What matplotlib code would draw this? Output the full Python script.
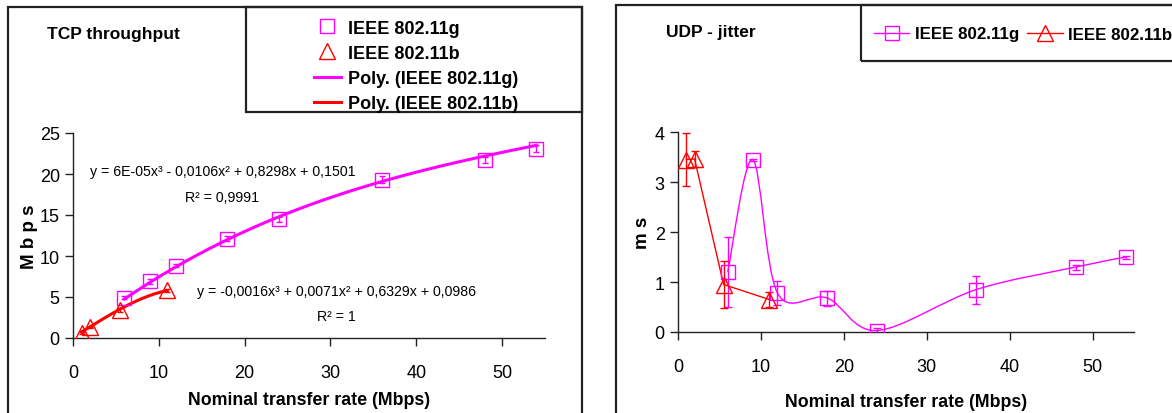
import matplotlib
matplotlib.use("Agg")
import matplotlib.pyplot as plt
import numpy as np
from matplotlib.patches import Rectangle, PathPatch
from matplotlib.path import Path
from matplotlib.lines import Line2D

plt.rcParams['font.family'] = ['Liberation Sans', 'DejaVu Sans']

# data: TCP throughput (Mbps)
tcp_g_x = [6, 9, 12, 18, 24, 36, 48, 54]
tcp_g_y = [4.9, 6.9, 8.8, 12.1, 14.5, 19.3, 21.7, 23.1]
tcp_g_err = [0.2, 0.3, 0.2, 0.3, 0.3, 0.4, 0.4, 0.4]
tcp_b_x = [1, 2, 5.5, 11]
tcp_b_y = [0.6, 1.3, 3.4, 5.8]
tcp_b_err = [0.1, 0.1, 0.2, 0.2]
# trendline coefficients as printed on the chart
poly_g = [6e-05, -0.0106, 0.8298, 0.1501]
poly_b = [-0.0016, 0.0071, 0.6329, 0.0986]

# data: UDP jitter (ms)
udp_g_x = [6, 9, 12, 18, 24, 36, 48, 54]
udp_g_y = [1.2, 3.45, 0.78, 0.68, 0.03, 0.85, 1.3, 1.5]
udp_g_err = [0.7, 0.02, 0.24, 0.15, 0.05, 0.28, 0.05, 0.03]
udp_b_x = [1, 2, 5.5, 11]
udp_b_y = [3.45, 3.46, 0.95, 0.65]
udp_b_err = [0.53, 0.16, 0.47, 0.15]

MAG = '#FF00FF'
RED = '#FF0000'

W, H = 1172, 414
fig = plt.figure(figsize=(W / 100, H / 100), dpi=100)


def px_axes(x0, y0, x1, y1):
    return fig.add_axes([x0 / W, 1 - y1 / H, (x1 - x0) / W, (y1 - y0) / H])


def px_rect(x0, y0, x1, y1, lw=1.6, color='#222222'):
    r = Rectangle((x0 / W, 1 - y1 / H), (x1 - x0) / W, (y1 - y0) / H,
                  transform=fig.transFigure, fill=False, lw=lw, ec=color)
    fig.patches.append(r)


def style_axes(ax, ymax, yticks, xpad):
    ax.set_xlim(0, 55)
    ax.set_ylim(0, ymax)
    ax.set_xticks([0, 10, 20, 30, 40, 50])
    ax.set_yticks(yticks)
    for s in ['top', 'right']:
        ax.spines[s].set_visible(False)
    for s in ['left', 'bottom']:
        ax.spines[s].set_linewidth(1.0)
        ax.spines[s].set_color('#222222')
    ax.tick_params(direction='out', length=6, width=1, labelsize=13, color='#222222')
    ax.tick_params(axis='x', pad=13)
    ax.set_facecolor('none')
    ax.set_xlabel('Nominal transfer rate (Mbps)', fontsize=12.8, fontweight='bold',
                  labelpad=xpad)


def smooth_line(ax, xs, ys, color, lw=1.0):
    # Excel-like smoothed line: Bezier segments through the points
    pts = np.column_stack([xs, ys]).astype(float)
    n = len(pts)
    verts = [pts[0]]
    codes = [Path.MOVETO]
    for i in range(n - 1):
        p0 = pts[i - 1] if i > 0 else pts[i]
        p1 = pts[i]
        p2 = pts[i + 1]
        p3 = pts[i + 2] if i + 2 < n else pts[i + 1]
        c1 = p1 + (p2 - p0) / 6.0
        c2 = p2 - (p3 - p1) / 6.0
        verts += [c1, c2, p2]
        codes += [Path.CURVE4] * 3
    ax.add_patch(PathPatch(Path(verts, codes), fill=False, ec=color, lw=lw, zorder=2))


# ---------------- left: TCP throughput ----------------
px_rect(8, 8, 582, 420)
ax1 = px_axes(73, 134, 545, 339)
style_axes(ax1, 25, [0, 5, 10, 15, 20, 25], 7)
ax1.set_ylabel('M b p s', fontsize=13.5, fontweight='bold', labelpad=1)

xg = np.linspace(min(tcp_g_x), max(tcp_g_x), 200)
xb = np.linspace(min(tcp_b_x), max(tcp_b_x), 200)
ax1.plot(xg, np.polyval(poly_g, xg), color=MAG, lw=2.2, zorder=2)
ax1.plot(xb, np.polyval(poly_b, xb), color=RED, lw=2.2, zorder=2)
ax1.errorbar(tcp_g_x, tcp_g_y, yerr=tcp_g_err, fmt='s', ms=10, mfc='none', mec=MAG,
             mew=1.0, ecolor=MAG, elinewidth=1, capsize=2, zorder=3)
ax1.errorbar(tcp_b_x, tcp_b_y, yerr=tcp_b_err, fmt='^', ms=11, mfc='none', mec=RED,
             mew=1.0, ecolor=RED, elinewidth=1, capsize=2, zorder=3)

ax1.text(17.4, 20.4, 'y = 6E-05x³ - 0,0106x² + 0,8298x + 0,1501', fontsize=10.2,
         ha='center', va='center')
ax1.text(17.4, 17.2, 'R² = 0,9991', fontsize=10.2, ha='center', va='center')
ax1.text(30.7, 5.7, 'y = -0,0016x³ + 0,0071x² + 0,6329x + 0,0986', fontsize=10.2,
         ha='center', va='center')
ax1.text(30.7, 2.7, 'R² = 1', fontsize=10.2, ha='center', va='center')

fig.text(47 / W, 1 - 35 / H, 'TCP throughput', fontsize=12.5, fontweight='bold',
         va='center')

px_rect(246, 8, 582, 113)
h1 = [Line2D([], [], ls='none', marker='s', ms=10, mfc='none', mec=MAG),
      Line2D([], [], ls='none', marker='^', ms=11, mfc='none', mec=RED),
      Line2D([], [], color=MAG, lw=2.2),
      Line2D([], [], color=RED, lw=2.2)]
fig.legend(h1, ['IEEE 802.11g', 'IEEE 802.11b', 'Poly. (IEEE 802.11g)', 'Poly. (IEEE 802.11b)'],
           loc='upper left', bbox_to_anchor=(301 / W, 1 - 8 / H), frameon=False,
           prop={'weight': 'bold', 'size': 13},
           handlelength=1.5, handletextpad=0.4, labelspacing=0.45, borderpad=0.2)

# ---------------- right: UDP jitter ----------------
px_rect(616, 6, 1180, 420)
ax2 = px_axes(678, 133, 1134, 333)
style_axes(ax2, 4, [0, 1, 2, 3, 4], 13)
ax2.set_ylabel('m s', fontsize=13.5, fontweight='bold', labelpad=3)

smooth_line(ax2, udp_g_x, udp_g_y, MAG)
ax2.plot(udp_b_x, udp_b_y, color=RED, lw=1.0, zorder=2)
ax2.errorbar(udp_g_x, udp_g_y, yerr=udp_g_err, fmt='s', ms=10, mfc='none', mec=MAG,
             mew=1.0, ecolor=MAG, elinewidth=1, capsize=3, zorder=3)
ax2.errorbar(udp_b_x, udp_b_y, yerr=udp_b_err, fmt='^', ms=11, mfc='none', mec=RED,
             mew=1.0, ecolor=RED, elinewidth=1, capsize=3, zorder=3)

fig.text(666 / W, 1 - 33 / H, 'UDP - jitter', fontsize=12.5, fontweight='bold',
         va='center')

px_rect(861, 6, 1180, 62)
h2 = [Line2D([], [], color=MAG, lw=1, marker='s', ms=10, mfc='none', mec=MAG),
      Line2D([], [], color=RED, lw=1, marker='^', ms=11, mfc='none', mec=RED)]
fig.legend(h2, ['IEEE 802.11g', 'IEEE 802.11b'], loc='center left',
           bbox_to_anchor=(862 / W, 1 - 35 / H), frameon=False, ncol=2,
           prop={'weight': 'bold', 'size': 12.2},
           handlelength=2.1, handletextpad=0.3, columnspacing=0.5, borderpad=0.2)

fig.savefig('out.png', dpi=100)
